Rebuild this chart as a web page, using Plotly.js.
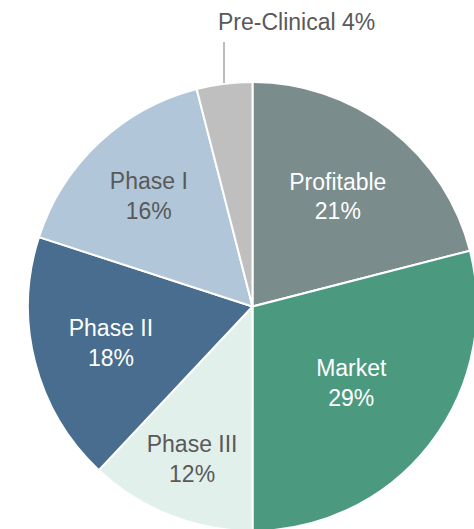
<!DOCTYPE html>
<html>
<head>
<meta charset="utf-8">
<script src="https://cdn.plot.ly/plotly-3.0.1.min.js"></script>
<style>html,body{margin:0;padding:0;background:#fff;overflow:hidden;width:474px;height:529px;}#chart{width:480px;height:540px;}</style>
</head>
<body>
<div id="chart"></div>
<script>
const labels = ["Profitable", "Market", "Phase III", "Phase II", "Phase I", "Pre-Clinical"];
const values = [21, 29, 12, 18, 16, 4];
const colors = ["#7a8c8c", "#4b9a80", "#e2f0ec", "#486d8e", "#b1c6d8", "#bfbfbf"];
const textColors = ["#ffffff", "#ffffff", "#595959", "#ffffff", "#595959", "#595959"];
const textPositions = ["inside", "inside", "inside", "inside", "inside", "none"];

const W = 480, H = 540;
const cx = 252.5, cy = 306.5, r = 224.5;

const trace = {
  type: "pie",
  labels: labels,
  values: values,
  sort: false,
  direction: "clockwise",
  rotation: 0,
  marker: {colors: colors, line: {color: "#ffffff", width: 2}},
  texttemplate: "%{label}<br>%{value}%",
  textposition: textPositions,
  insidetextorientation: "horizontal",
  insidetextfont: {family: "Liberation Sans, Arial, sans-serif", size: 23, color: textColors},
  hoverinfo: "none",
  domain: {x: [(cx - r) / W, (cx + r) / W], y: [(H - cy - r) / H, (H - cy + r) / H]},
  showlegend: false
};

const last = labels.length - 1;
const layout = {
  width: W, height: H,
  margin: {l: 0, r: 0, t: 0, b: 0},
  paper_bgcolor: "#ffffff",
  showlegend: false,
  annotations: [{
    text: labels[last] + " " + values[last] + "%",
    xref: "paper", yref: "paper",
    x: 296 / W, y: (H - 22) / H,
    xanchor: "center", yanchor: "middle",
    showarrow: false,
    font: {family: "Liberation Sans, Arial, sans-serif", size: 23, color: "#595959"}
  }],
  shapes: [{
    type: "line", xref: "paper", yref: "paper",
    x0: 224 / W, x1: 224 / W, y0: (H - 42) / H, y1: (H - 83) / H,
    line: {color: "#a6a6a6", width: 1.5}
  }]
};

Plotly.newPlot("chart", [trace], layout, {staticPlot: true, displayModeBar: false});
</script>
</body>
</html>
